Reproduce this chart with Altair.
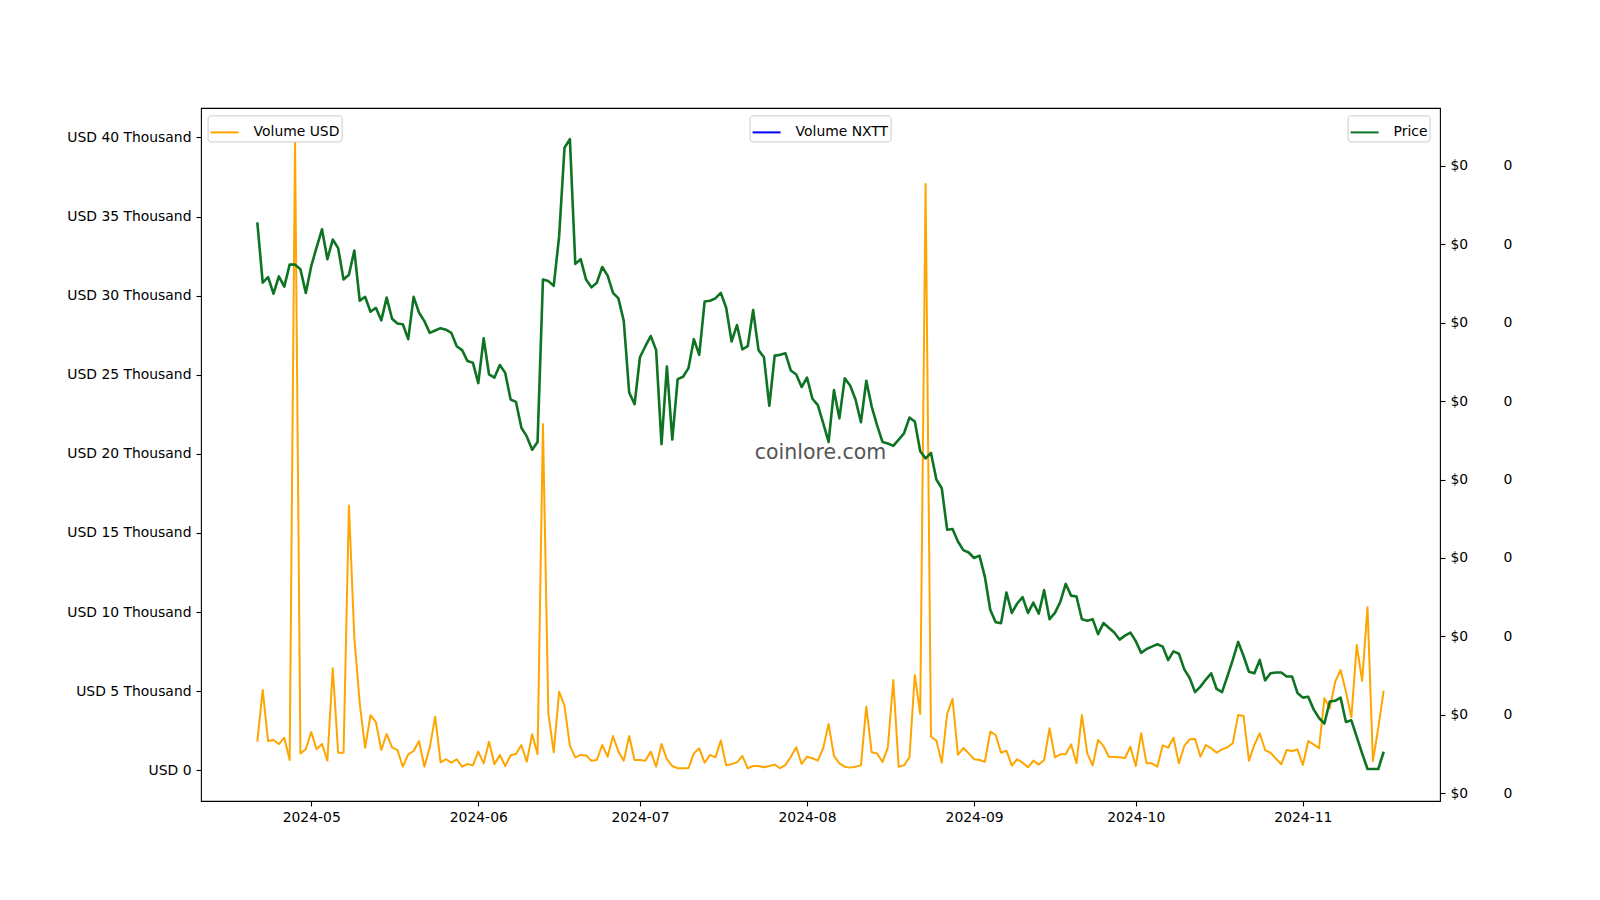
import altair as alt
import pandas as pd

# ---------------- data ----------------
start_date = "2024-04-21"
n_days = 210
dates = pd.date_range(start_date, periods=n_days, freq="D").strftime("%Y-%m-%d").tolist()

# Volume in USD, thousands
volume_usd_k = [
    1.81, 5.08, 1.85, 1.92, 1.66, 2.06, 0.65, 39.86, 1.07, 1.33,
    2.42, 1.33, 1.66, 0.61, 6.45, 1.11, 1.11, 16.73, 8.40, 4.24,
    1.43, 3.48, 3.05, 1.28, 2.30, 1.45, 1.28, 0.23, 1.01, 1.22,
    1.85, 0.23, 1.45, 3.39, 0.50, 0.70, 0.48, 0.70, 0.23, 0.40,
    0.31, 1.18, 0.44, 1.81, 0.38, 0.97, 0.27, 0.95, 1.03, 1.60,
    0.54, 2.28, 1.01, 21.88, 3.60, 1.14, 4.97, 4.07, 1.54, 0.82,
    0.97, 0.93, 0.61, 0.65, 1.60, 0.86, 2.17, 1.18, 0.61, 2.17,
    0.65, 0.65, 0.61, 1.18, 0.23, 1.66, 0.70, 0.27, 0.13, 0.13,
    0.13, 1.07, 1.39, 0.48, 0.97, 0.82, 1.88, 0.31, 0.40, 0.50,
    0.91, 0.13, 0.27, 0.27, 0.19, 0.27, 0.36, 0.13, 0.34, 0.86,
    1.45, 0.40, 0.86, 0.76, 0.61, 1.40, 2.93, 0.91, 0.44, 0.23,
    0.17, 0.23, 0.31, 4.02, 1.14, 1.07, 0.52, 1.45, 5.71, 0.23,
    0.31, 0.82, 6.03, 3.56, 37.05, 2.12, 1.88, 0.48, 3.56, 4.51,
    0.97, 1.41, 1.07, 0.70, 0.65, 0.54, 2.44, 2.23, 1.11, 1.24,
    0.30, 0.70, 0.48, 0.19, 0.61, 0.36, 0.65, 2.66, 0.82, 1.01,
    1.01, 1.64, 0.44, 3.50, 1.07, 0.31, 1.92, 1.54, 0.86, 0.84,
    0.82, 0.78, 1.49, 0.27, 2.34, 0.44, 0.44, 0.23, 1.58, 1.43,
    2.06, 0.44, 1.54, 1.96, 1.98, 0.86, 1.60, 1.39, 1.11, 1.32,
    1.45, 1.71, 3.50, 3.43, 0.61, 1.60, 2.34, 1.28, 1.11, 0.74,
    0.38, 1.28, 1.22, 1.32, 0.34, 1.85, 1.64, 1.39, 4.55, 3.92,
    5.60, 6.34, 4.97, 3.35, 7.92, 5.65, 10.31, 0.59, 2.68, 5.03,
]

# Price, in units of the right-hand axis tick step (every tick is labelled "$0")
price_units = [
    7.28, 6.51, 6.58, 6.37, 6.59, 6.46, 6.74, 6.74, 6.68, 6.38,
    6.72, 6.96, 7.19, 6.81, 7.06, 6.95, 6.55, 6.61, 6.92, 6.28,
    6.33, 6.14, 6.19, 6.03, 6.32, 6.05, 5.99, 5.98, 5.79, 6.33,
    6.13, 6.02, 5.87, 5.90, 5.93, 5.91, 5.87, 5.70, 5.65, 5.51,
    5.49, 5.23, 5.80, 5.34, 5.30, 5.46, 5.36, 5.02, 4.99, 4.66,
    4.55, 4.38, 4.48, 6.55, 6.53, 6.47, 7.10, 8.23, 8.34, 6.75,
    6.81, 6.55, 6.45, 6.51, 6.71, 6.60, 6.38, 6.31, 6.02, 5.11,
    4.96, 5.56, 5.70, 5.83, 5.65, 4.45, 5.44, 4.51, 5.28, 5.31,
    5.42, 5.79, 5.59, 6.27, 6.28, 6.31, 6.38, 6.19, 5.76, 5.97,
    5.66, 5.70, 6.16, 5.65, 5.56, 4.94, 5.58, 5.59, 5.61, 5.39,
    5.34, 5.18, 5.30, 5.03, 4.95, 4.72, 4.48, 5.14, 4.78, 5.29,
    5.20, 5.02, 4.73, 5.26, 4.93, 4.69, 4.48, 4.46, 4.43, 4.51,
    4.59, 4.79, 4.74, 4.36, 4.27, 4.34, 4.00, 3.89, 3.36, 3.37,
    3.21, 3.10, 3.07, 3.00, 3.03, 2.76, 2.34, 2.18, 2.17, 2.56,
    2.30, 2.42, 2.50, 2.30, 2.43, 2.29, 2.59, 2.22, 2.30, 2.44,
    2.67, 2.52, 2.51, 2.22, 2.20, 2.22, 2.03, 2.17, 2.11, 2.05,
    1.96, 2.01, 2.05, 1.94, 1.79, 1.84, 1.87, 1.90, 1.87, 1.70,
    1.81, 1.78, 1.58, 1.47, 1.29, 1.36, 1.45, 1.53, 1.33, 1.29,
    1.49, 1.70, 1.93, 1.75, 1.55, 1.53, 1.70, 1.44, 1.53, 1.54,
    1.54, 1.49, 1.49, 1.28, 1.22, 1.23, 1.07, 0.96, 0.89, 1.17,
    1.18, 1.22, 0.91, 0.93, 0.72, 0.51, 0.31, 0.31, 0.31, 0.53,
]

# Volume NXTT: no visible line in the reference
volume_nxtt = [None] * n_days

series_names = ["Volume USD", "Volume NXTT", "Price"]
series_colors = ["#FFA500", "#0000FF", "#0E7323"]
left_ticks = [0, 5, 10, 15, 20, 25, 30, 35, 40]
right_ticks = [0, 1, 2, 3, 4, 5, 6, 7, 8]
month_ticks = [5, 6, 7, 8, 9, 10, 11]
watermark = "coinlore.com"

df = pd.DataFrame({
    "date": dates,
    "vol_usd": volume_usd_k,
    "vol_nxtt": volume_nxtt,
    "price": price_units,
})

# ---------------- styling ----------------
W, H = 1239, 693
FONT = "DejaVu Sans"
FS = 13.9

x_enc = alt.X(
    "date:T",
    scale=alt.Scale(
        type="utc",
        nice=False,
        domain=[
            alt.DateTime(year=2024, month=4, date=10, hours=13, minutes=12, utc=True),
            alt.DateTime(year=2024, month=11, date=26, hours=10, minutes=48, utc=True),
        ],
    ),
    axis=alt.Axis(
        values=[alt.DateTime(year=2024, month=m, date=1, utc=True) for m in month_ticks],
        labelExpr="utcFormat(datum.value, '%Y-%m')",
        title=None,
        grid=False,
        domain=False,
        tickSize=5,
        labelPadding=4,
        labelFlush=False,
        labelOverlap=False,
    ),
)


def legend_at(x):
    return alt.Legend(
        title=None,
        orient="none",
        legendX=x,
        legendY=7.4,
        symbolType="stroke",
        symbolSize=784,
        symbolStrokeWidth=2,
        labelFont=FONT,
        labelFontSize=FS,
        labelColor="black",
        labelOffset=14,
        padding=2,
        strokeColor="#cccccc",
        fillColor="white",
        cornerRadius=3,
    )


base = alt.Chart(df)

vol_layer = base.transform_calculate(series=f"'{series_names[0]}'").mark_line(
    strokeWidth=2.0, strokeJoin="round"
).encode(
    x=x_enc,
    y=alt.Y(
        "vol_usd:Q",
        scale=alt.Scale(domain=[-1.94, 41.86], nice=False, zero=False),
        axis=alt.Axis(
            orient="left",
            values=left_ticks,
            labelExpr="datum.value == 0 ? 'USD 0' : 'USD ' + datum.value + ' Thousand'",
            title=None,
            grid=False,
            domain=False,
            tickSize=5,
            labelPadding=5,
        ),
    ),
    color=alt.Color(
        "series:N",
        scale=alt.Scale(domain=[series_names[0]], range=[series_colors[0]]),
        legend=legend_at(6.6),
    ),
)

nxtt_layer = base.transform_calculate(series=f"'{series_names[1]}'").mark_line(
    strokeWidth=2
).encode(
    x=x_enc,
    y=alt.Y(
        "vol_nxtt:Q",
        scale=alt.Scale(domain=[-0.098, 8.737], nice=False, zero=False),
        axis=alt.Axis(
            orient="right",
            offset=55,
            values=right_ticks,
            labelExpr="'0'",
            title=None,
            grid=False,
            domain=False,
            ticks=False,
            tickSize=0,
            labelPadding=8,
        ),
    ),
    color=alt.Color(
        "series:N",
        scale=alt.Scale(domain=[series_names[1]], range=[series_colors[1]]),
        legend=legend_at(548.6),
    ),
)

price_layer = base.transform_calculate(series=f"'{series_names[2]}'").mark_line(
    strokeWidth=2.6, strokeJoin="round"
).encode(
    x=x_enc,
    y=alt.Y(
        "price:Q",
        scale=alt.Scale(domain=[-0.098, 8.737], nice=False, zero=False),
        axis=alt.Axis(
            orient="right",
            values=right_ticks,
            labelExpr="'$0'",
            title=None,
            grid=False,
            domain=False,
            tickSize=5,
            labelPadding=5,
        ),
    ),
    color=alt.Color(
        "series:N",
        scale=alt.Scale(domain=[series_names[2]], range=[series_colors[2]]),
        legend=legend_at(1146.6),
    ),
)

text_layer = alt.Chart(pd.DataFrame({"t": [watermark]})).mark_text(
    font=FONT, fontSize=20.5, color="#555555", align="center", baseline="middle"
).encode(
    x=alt.value(W / 2),
    y=alt.value(H / 2 - 1.5),
    text="t:N",
)

chart = (
    alt.layer(vol_layer, nxtt_layer, price_layer, text_layer)
    .resolve_scale(y="independent", color="independent")
    .properties(
        width=W,
        height=H,
        autosize=alt.AutoSizeParams(type="none"),
        padding={"left": 193, "top": 100, "right": 152, "bottom": 91},
        background="white",
    )
    .configure_view(stroke="black", strokeWidth=1.1)
    .configure_axis(
        labelFont=FONT,
        labelFontSize=FS,
        labelColor="black",
        tickColor="black",
        tickWidth=1.1,
    )
)

chart.save("out.html", embed_options={"renderer": "svg", "actions": False})
